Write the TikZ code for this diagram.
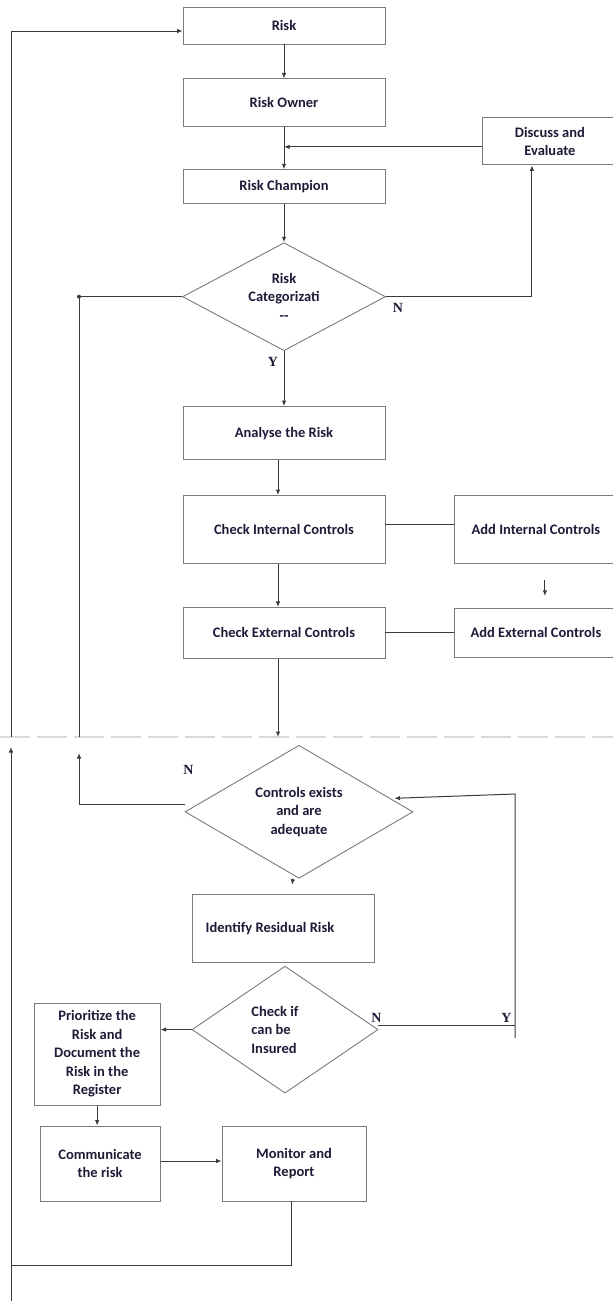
\documentclass[tikz,border=0pt]{standalone}
\usepackage{fontspec}
\setmainfont{Carlito}
\newfontfamily\ynfont{Liberation Serif}
\usetikzlibrary{arrows.meta,positioning,shapes.geometric}
\definecolor{boxgray}{HTML}{7A7A7A}
\definecolor{linegray}{HTML}{3A3A3A}
\definecolor{inkblue}{HTML}{1C1C38}

\begin{document}
\begin{tikzpicture}[x=1pt,y=-1pt,>={Latex[length=5.5pt,width=4.5pt]},font=\fontsize{14.5}{18.5}\selectfont\bfseries]
\tikzstyle{blk}=[draw=boxgray,line width=0.9pt,align=center,text=inkblue,inner sep=2pt,minimum width=202pt]
\tikzstyle{dec}=[draw=boxgray,line width=0.9pt,diamond,aspect=2,align=center,text=inkblue,inner sep=0pt]
\tikzstyle{conn}=[draw=linegray,line width=1pt]
\tikzstyle{yn}=[font=\ynfont\bfseries\fontsize{14}{14}\selectfont,text=inkblue,inner sep=0pt]
\tikzstyle{jdot}=[circle,fill=linegray,inner sep=0pt,minimum size=4pt]
\useasboundingbox (0,0) rectangle (613,1301);
\node[blk,minimum height=37pt] (risk) at (284,25.5) {Risk};
\node[blk,minimum height=48pt,below=34pt of risk] (owner) {Risk Owner};
\node[blk,minimum height=34pt,below=42pt of owner] (champ) {Risk Champion};
\node[dec,minimum width=203pt,minimum height=108pt,below=38pt of champ] (cat) {Risk\\Categorizati\\-{}-};
\node[blk,minimum width=134pt,minimum height=47pt,right=97pt of owner,yshift=-38.5pt] (discuss) {Discuss and\\Evaluate};
\node[blk,minimum height=53pt,below=55pt of cat] (analyse) {Analyse the Risk};
\node[blk,minimum height=68pt,below=35pt of analyse] (chkint) {Check Internal Controls};
\node[blk,minimum height=51pt,below=43pt of chkint] (chkext) {Check External Controls};
\node[blk,minimum width=162pt,minimum height=68pt,right=69pt of chkint] (addint) {Add Internal Controls};
\node[blk,minimum width=162pt,minimum height=49pt,right=69pt of chkext] (addext) {Add External Controls};
\node[dec,aspect=1.7,minimum width=228pt,minimum height=133pt,below=86pt of chkext,xshift=15pt] (ctrl) {Controls exists\\and are\\adequate};
\node[blk,minimum width=182pt,minimum height=68pt,below=15pt of ctrl,xshift=-16pt] (ident) {Identify Residual Risk\hspace*{26pt}};
\node[dec,aspect=1.5,minimum width=186pt,minimum height=127pt,below=3pt of ident,xshift=2pt,align=left] (ins) {Check if\\can be\\Insured\hspace*{22pt}};
\node[blk,minimum width=126pt,minimum height=102pt,left=31pt of ins,yshift=-24.5pt] (prior) {Prioritize the\\Risk and\\Document the\\Risk in the\\Register};
\node[blk,minimum width=120pt,minimum height=75pt,below=20pt of prior,xshift=3pt] (comm) {Communicate\\the risk};
\node[blk,minimum width=144pt,minimum height=75pt,right=61pt of comm] (mon) {Monitor and\\Report};
\node[yn] (ncat) at ([xshift=12pt,yshift=-11pt]cat.east) {N};
\node[yn] (ycat) at ([xshift=-11pt,yshift=-11pt]cat.south) {Y};
\node[yn] (nctrl) at ([xshift=4pt,yshift=41.5pt]ctrl.west) {N};
\node[yn] (nins) at ([xshift=-2pt,yshift=11.5pt]ins.east) {N};
\node[yn] (yins) at ([xshift=128pt,yshift=11.5pt]ins.east) {Y};
\coordinate (seaml) at (0,737);
\coordinate (seamr) at (613,737);
\coordinate (otop) at (11,737);
\coordinate (oup) at (11,747);
\coordinate (obot) at (11,1301);
\coordinate (ocorner) at (11,1265);
\coordinate (ctop) at (79,737);
\coordinate (cup) at (79,753);
\coordinate (ybot) at (515,1038);
\coordinate (ytop) at (515,794);
\coordinate (addgap1) at ([xshift=9pt,yshift=-16pt]addint.south);
\coordinate (addgap2) at ([xshift=9pt,yshift=-32pt]addint.south);
\coordinate (dsc) at ([yshift=-5.5pt]discuss.west);
\coordinate (ci) at ([yshift=5pt]chkint.east);
\coordinate (ce) at ([xshift=-6pt]chkext.south);
\coordinate (cw) at ([yshift=7pt]ctrl.west);
\coordinate (ie) at ([yshift=4.5pt]ins.east);
\coordinate (cm) at ([yshift=2.5pt]comm.east);
\coordinate (ms) at ([xshift=-3pt]mon.south);
\draw[gray!30,line width=1.3pt,dash pattern=on 30pt off 7pt] (seaml) -- (seamr);
\draw[conn,->] (risk) -- (owner);
\draw[conn,->] (owner) -- (champ);
\draw[conn,->] (dsc) -- (owner.south |- dsc);
\draw[conn,->] (champ) -- (cat);
\draw[conn,->] (cat.east) -| ([xshift=-18pt]discuss.south);
\draw[conn,->] (cat) -- (analyse);
\draw[conn,->] ([xshift=-6pt]analyse.south) -- ([xshift=-6pt]chkint.north);
\draw[conn,->] ([xshift=-6pt]chkint.south) -- ([xshift=-6pt]chkext.north);
\draw[conn] (ci) -- (addint.west |- ci);
\draw[conn] (chkext.east) -- (addext.west);
\draw[conn,->] (addgap1) -- (addgap2);
\draw[conn,->] (ce) -- (ce |- seaml);
\draw[conn] (ctop) |- node[pos=0.5,jdot] (cdot) {} (cat.west);
\draw[conn,->] (cw) -| (cup);
\draw[conn,->] ([xshift=-6pt]ctrl.south) -- ([xshift=9pt,yshift=9pt]ident.north);
\draw[conn] (ie) -- (ie -| ybot);
\draw[conn,->] (ybot) -- (ytop) -- ([xshift=-19pt,yshift=13.5pt]ctrl.east);
\draw[conn,->] (ins.west) -- (ins.west -| prior.east);
\draw[conn,->] (prior.south) -- (prior.south |- comm.north);
\draw[conn,->] (cm) -- (cm -| mon.west);
\draw[conn] (ms) |- (ocorner);
\draw[conn,->] (obot) -- (oup);
\draw[conn,->] (otop) |- ([yshift=-5.5pt]risk.west);
\end{tikzpicture}
\end{document}
